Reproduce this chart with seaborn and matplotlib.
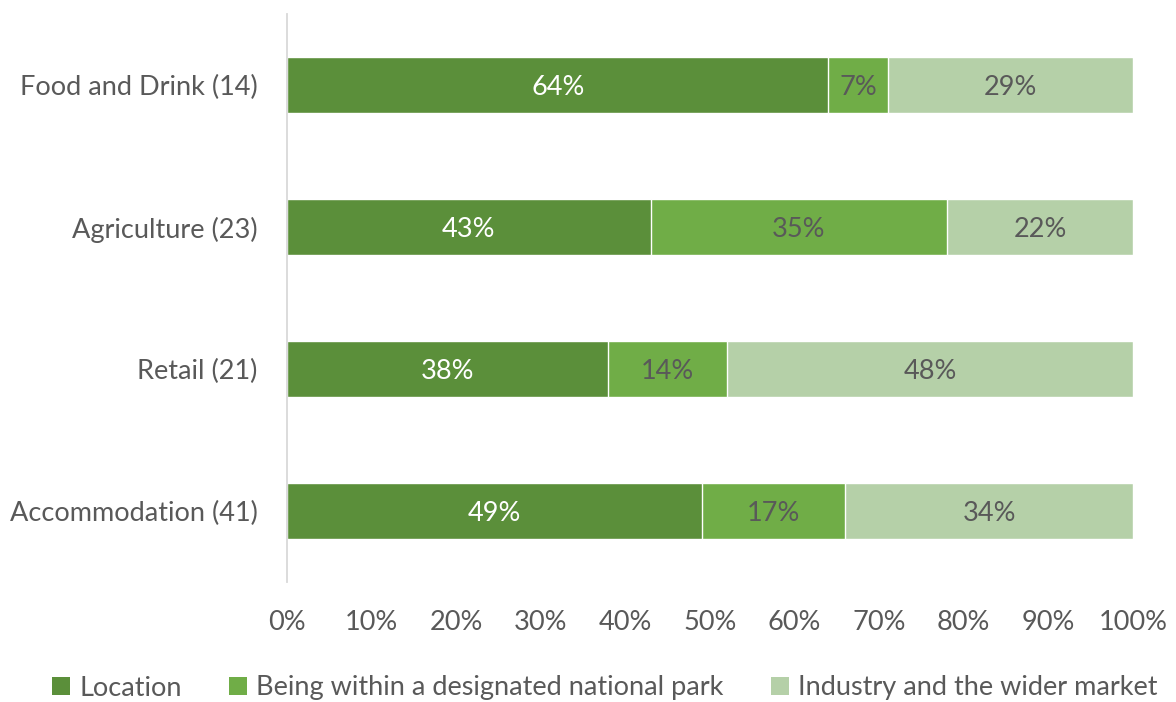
import numpy as np
import pandas as pd
import matplotlib
matplotlib.use("Agg")
import matplotlib.pyplot as plt
import seaborn as sns
from matplotlib.patches import Patch

categories = ["Food and Drink (14)", "Agriculture (23)", "Retail (21)", "Accommodation (41)"]
series_names = ["Location", "Being within a designated national park", "Industry and the wider market"]
location = [64, 43, 38, 49]
national_park = [7, 35, 14, 17]
industry = [29, 22, 48, 34]
x_ticks = [0, 10, 20, 30, 40, 50, 60, 70, 80, 90, 100]

colors = ["#5B8F3A", "#70AD47", "#B5D0A8"]
label_colors = ["white", "#595959", "#595959"]
text_color = "#595959"

sns.set_theme(style="white")
plt.rcParams["font.family"] = ["Lato", "DejaVu Sans"]
FS = 19.5

df = pd.DataFrame({
    "category": categories,
    "s1": location,
    "s2": national_park,
    "s3": industry,
})
series_cols = ["s1", "s2", "s3"]
cum = df[series_cols].cumsum(axis=1)

fig = plt.figure(figsize=(11.76, 7.02), dpi=100)
ax = fig.add_axes([287 / 1176, 1 - 582 / 702, (1133 - 287) / 1176, (582 - 14) / 702])

# Stacked bars drawn as layered cumulative totals, widest first
for i in reversed(range(3)):
    plot_df = pd.DataFrame({"category": categories, "value": cum[series_cols[i]]})
    sns.barplot(data=plot_df, y="category", x="value", orient="h", color=colors[i],
                saturation=1, width=0.4, edgecolor="white", linewidth=1.0, ax=ax)

# Segment labels centred in each segment
for i, col in enumerate(series_cols):
    starts = cum[col] - df[col]
    for j, (s, v) in enumerate(zip(starts, df[col])):
        ax.text(s + v / 2, j, f"{v}%", ha="center", va="center_baseline",
                color=label_colors[i], fontsize=FS)

ax.set_xlim(0, 100)
ax.set_ylim(3.5, -0.5)
ax.set_xticks(x_ticks)
ax.set_xticklabels([f"{t}%" for t in x_ticks])
ax.set_xlabel("")
ax.set_ylabel("")
ax.tick_params(axis="x", length=0, pad=20, labelsize=FS, labelcolor=text_color)
ax.tick_params(axis="y", length=0, pad=21, labelsize=FS, labelcolor=text_color)
for side in ["top", "right", "bottom"]:
    ax.spines[side].set_visible(False)
ax.spines["left"].set_color("#D9D9D9")
ax.spines["left"].set_linewidth(1.3)

handles = [Patch(facecolor=c, edgecolor="none") for c in colors]
fig.legend(handles, series_names, loc="center", bbox_to_anchor=(605 / 1176, 1 - 688 / 702),
           ncol=3, frameon=False, fontsize=FS, labelcolor=text_color,
           handlelength=0.65, handleheight=0.65, handletextpad=0.35, columnspacing=1.75)

fig.savefig("out.png", dpi=100)
